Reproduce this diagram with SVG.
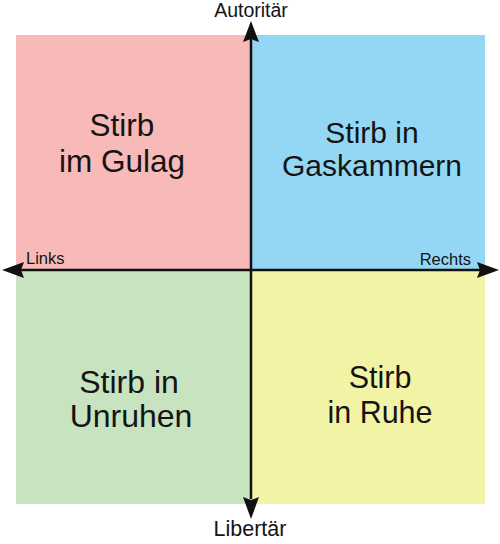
<svg xmlns="http://www.w3.org/2000/svg" width="500" height="544" viewBox="0 0 500 544">
  <style>
    .q { font-family: "Liberation Sans", Arial, sans-serif; fill: #141414; text-anchor: middle; }
    .ax { font-family: "Liberation Sans", Arial, sans-serif; fill: #141414; }
    .axis { stroke: #111; stroke-width: 2.5; fill: none; }
    .head { fill: #111; }
  </style>
  <rect width="500" height="544" fill="#ffffff"/>
  <g id="quadrant-auth-left">
    <rect x="16" y="35" width="235" height="235" fill="#F8B9B9"/>
    <text class="q" x="122" y="136" font-size="31.5">Stirb</text>
    <text class="q" x="122" y="172" font-size="31.5">im Gulag</text>
  </g>
  <g id="quadrant-auth-right">
    <rect x="251" y="35" width="234" height="235" fill="#93D7F5"/>
    <text class="q" x="372" y="143" font-size="30">Stirb in</text>
    <text class="q" x="372" y="176" font-size="30">Gaskammern</text>
  </g>
  <g id="quadrant-lib-left">
    <rect x="16" y="270" width="235" height="234" fill="#C8E3C0"/>
    <text class="q" x="129" y="393" font-size="32">Stirb in</text>
    <text class="q" x="131" y="427" font-size="32">Unruhen</text>
  </g>
  <g id="quadrant-lib-right">
    <rect x="251" y="270" width="234" height="234" fill="#F3F3A6"/>
    <text class="q" x="380" y="388" font-size="30.5">Stirb</text>
    <text class="q" x="380" y="423" font-size="30.5">in Ruhe</text>
  </g>
  <g id="connectors">
    <line class="axis" x1="251" y1="36" x2="251" y2="499"/>
    <line class="axis" x1="18" y1="270" x2="482" y2="270"/>
    <path class="head" d="M251,21 L259,42 L251,39 L243,42 Z"/>
    <path class="head" d="M251,519 L259,497 L251,500 L243,497 Z"/>
    <path class="head" d="M2,270 L24,262 L21,270 L24,278 Z"/>
    <path class="head" d="M499,270 L477,262 L480,270 L477,278 Z"/>
  </g>
  <g id="axis-labels">
    <text class="ax" x="251" y="17" font-size="19.5" text-anchor="middle">Autoritär</text>
    <text class="ax" x="250" y="536" font-size="21.5" text-anchor="middle">Libertär</text>
    <text class="ax" x="26" y="264" font-size="16.5">Links</text>
    <text class="ax" x="471" y="265" font-size="16.5" text-anchor="end">Rechts</text>
  </g>
</svg>
